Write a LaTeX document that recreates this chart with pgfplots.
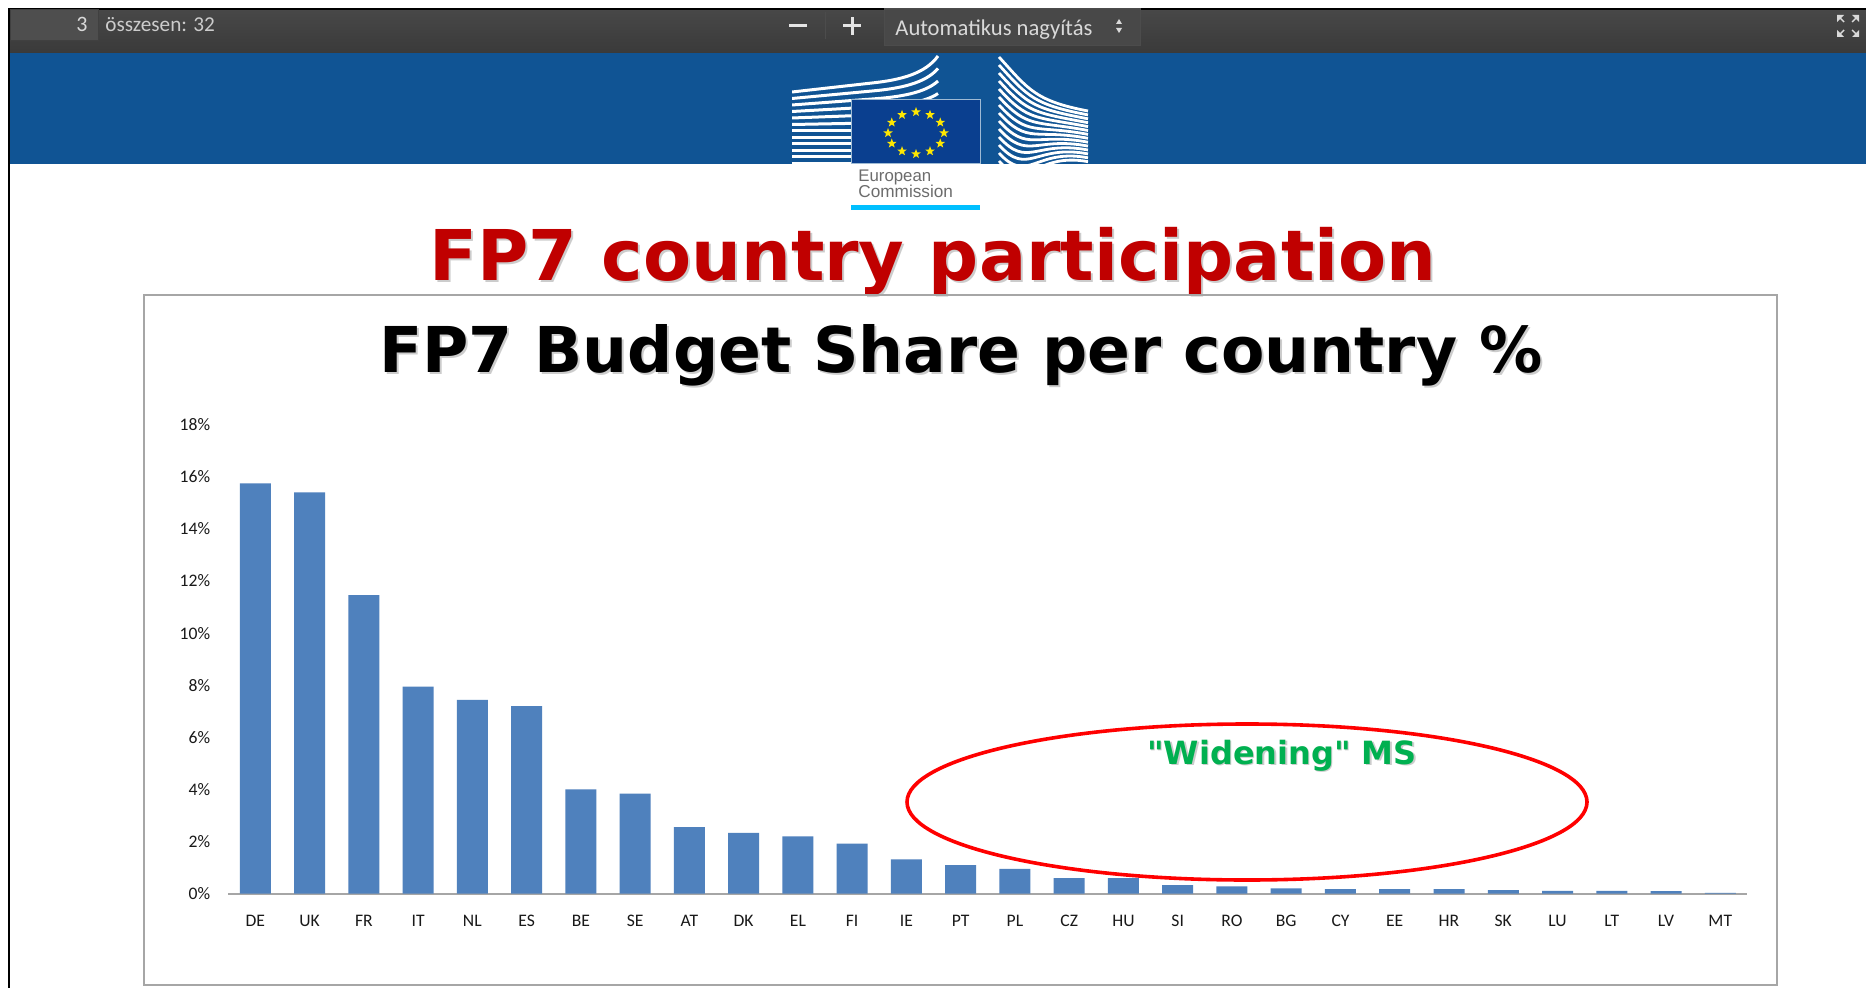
\documentclass[border=0pt]{standalone}
\usepackage{pgfplots}
\pgfplotsset{compat=1.18}
\usepackage{fontspec}
\setmainfont{Carlito}
\newfontfamily\djb{DejaVu Sans}[BoldFont={DejaVu Sans Bold}]
\newfontfamily\lib{Liberation Sans}
\usetikzlibrary{shapes.geometric,calc}
\definecolor{barblue}{HTML}{4F81BD}
\definecolor{topblue}{HTML}{105494}
\definecolor{flagblue}{HTML}{0A3F8F}
\definecolor{tb}{HTML}{484848}
\definecolor{tbb}{HTML}{3A3A3A}
\definecolor{cyanbar}{HTML}{00BFFF}
\definecolor{titlered}{HTML}{C00000}
\definecolor{msgreen}{HTML}{00B050}
\pgfplotstableread{
x name v
0 DE 15.75
1 UK 15.40
2 FR 11.46
3 IT 7.95
4 NL 7.44
5 ES 7.20
6 BE 4.00
7 SE 3.84
8 AT 2.56
9 DK 2.33
10 EL 2.20
11 FI 1.92
12 IE 1.32
13 PT 1.10
14 PL 0.95
15 CZ 0.60
16 HU 0.60
17 SI 0.33
18 RO 0.28
19 BG 0.20
20 CY 0.18
21 EE 0.18
22 HR 0.18
23 SK 0.14
24 LU 0.11
25 LT 0.11
26 LV 0.10
27 MT 0.03
}\fpdata
\begin{document}
\begin{tikzpicture}[x=0.5pt,y=-0.5pt]
\useasboundingbox (0,0) rectangle (1866,988);
\fill[white] (0,0) rectangle (1866,988);
% toolbar
\fill[top color=tb,bottom color=tbb] (9,9) rectangle (1866,53);
\fill[topblue] (9,53) rectangle (1866,164);
\draw[black,line width=1pt] (9,988) -- (9,9) -- (1866,9);
\draw[black!75,fill=tbb!90!white,line width=.5pt] (10,10) rectangle (98,41);
\node[anchor=base east,inner sep=0pt,text=white!85!black,font=\fontsize{11}{12}\selectfont] at (88,32) {3};
\node[anchor=base west,inner sep=0pt,text=white!80!black,font=\fontsize{10.6}{12}\selectfont] at (105,32) {összesen: 32};
\fill[white!90!black] (789,24.5) rectangle (807,27.5);
\draw[black!70,line width=.5pt] (825,12) -- (825,39);
\fill[white!90!black] (843,24.5) rectangle (861,27.5);
\fill[white!90!black] (850.5,17) rectangle (853.5,35);
\draw[black!70,fill=tb,line width=.5pt] (884,9) rectangle (1140,46);
\node[anchor=base west,inner sep=0pt,text=white!85!black,font=\fontsize{11.3}{12}\selectfont] at (895,36) {Automatikus nagyítás};
\fill[white!85!black] (1116,24) -- (1122,24) -- (1119,19) -- cycle;
\fill[white!85!black] (1116,28) -- (1122,28) -- (1119,33) -- cycle;
% fullscreen icon
\foreach \sx/\sy in {-1/-1,1/-1,-1/1,1/1}{
  \fill[white!85!black] ({1848+\sx*11},{26+\sy*11}) -- ({1848+\sx*4},{26+\sy*11}) -- ({1848+\sx*11},{26+\sy*4}) -- cycle;
  \draw[white!85!black,line width=.7pt] ({1848+\sx*9},{26+\sy*9}) -- ({1848+\sx*4},{26+\sy*4});
}
% logo
\fill[white] (792,164) rectangle (1088,211);
\begin{scope}
\clip (792,53) rectangle (940,164);
\foreach \i in {0,1,...,11}{
  \pgfmathsetmacro{\yy}{92+\i*6.5}
  \pgfmathsetmacro{\f}{max(0,1-\i/6)}
  \draw[white,line width=1.5pt] (792,\yy) -- (872,\yy-9*\f) .. controls (900,\yy-12*\f) and (925,\yy-18*\f) .. (938,\yy-36*\f);
}
\end{scope}
\foreach \i in {0,1,...,13}{
  \pgfmathsetmacro{\ya}{57+\i*8}
  \pgfmathsetmacro{\yb}{111+\i*3.9}
  \draw[white,line width=1.4pt] (999,\ya) .. controls (1028,\ya+32) and (1035,\yb-10) .. (1088,\yb);
}
\fill[flagblue,draw=white!60!topblue,line width=.5pt] (851,100) rectangle (980,164);
\foreach \a in {0,30,...,330}
  \node[star,star points=5,star point ratio=2.4,fill=yellow!90!orange,inner sep=0pt,minimum size=5pt] at ({916+28*cos(\a)},{133+21*sin(\a)}) {};
\node[anchor=base west,inner sep=0pt,text=gray!85!black,font=\lib\fontsize{8.4}{9}\selectfont] at (858,182) {European};
\node[anchor=base west,inner sep=0pt,text=gray!85!black,font=\lib\fontsize{8.6}{9}\selectfont] at (858,198) {Commission};
\fill[cyanbar] (851,205) rectangle (980,210);
% slide title
\node[anchor=base,inner sep=0pt,text=black!20,font=\djb\bfseries\fontsize{35}{38}\selectfont] at (935,283) {FP7 country participation};
\node[anchor=base,inner sep=0pt,text=titlered,font=\djb\bfseries\fontsize{35}{38}\selectfont] at (933,281) {FP7 country participation};
% box
\draw[black!35,line width=1pt] (144,295) rectangle (1777,985);
\node[anchor=base,inner sep=0pt,text=black!20,font=\djb\bfseries\fontsize{31.6}{34}\selectfont] at (963,375) {FP7 Budget Share per country \%};
\node[anchor=base,inner sep=0pt,text=black,font=\djb\bfseries\fontsize{31.6}{34}\selectfont] at (961,373) {FP7 Budget Share per country \%};
% chart
\coordinate (A) at (228.2,893.7);
\begin{axis}[
  at={(A)},anchor=south west,
  scale only axis,width=759.6pt,height=234.5pt,
  xmin=-0.5,xmax=27.5,ymin=0,ymax=18,
  axis x line=bottom,axis y line=left,
  x axis line style={draw=black!35,line width=.8pt,-},
  y axis line style={draw=none,-},
  tick style={draw=none},
  major tick length=0pt,
  xtick=data,
  xticklabels from table={\fpdata}{name},
  ytick={0,2,...,18},
  yticklabels={0\%,2\%,4\%,6\%,8\%,10\%,12\%,14\%,16\%,18\%},
  tick label style={font=\fontsize{8.8}{10}\selectfont,text=black!90},
  xticklabel style={yshift=-7pt},
  yticklabel style={xshift=-5.5pt},
  clip=false,
]
\addplot[ybar,bar width=15.5pt,fill=barblue,draw=none,bar shift=0pt] table[x=x,y=v] {\fpdata};
\end{axis}
% annotation
\draw[red,line width=1.8pt] (1247,802) ellipse [x radius=340,y radius=78];
\node[anchor=base,inner sep=0pt,text=black!20,font=\djb\bfseries\fontsize{16}{18}\selectfont] at (1283.5,765.5) {"Widening" MS};
\node[anchor=base,inner sep=0pt,text=msgreen,font=\djb\bfseries\fontsize{16}{18}\selectfont] at (1282,764) {"Widening" MS};
\end{tikzpicture}
\end{document}
